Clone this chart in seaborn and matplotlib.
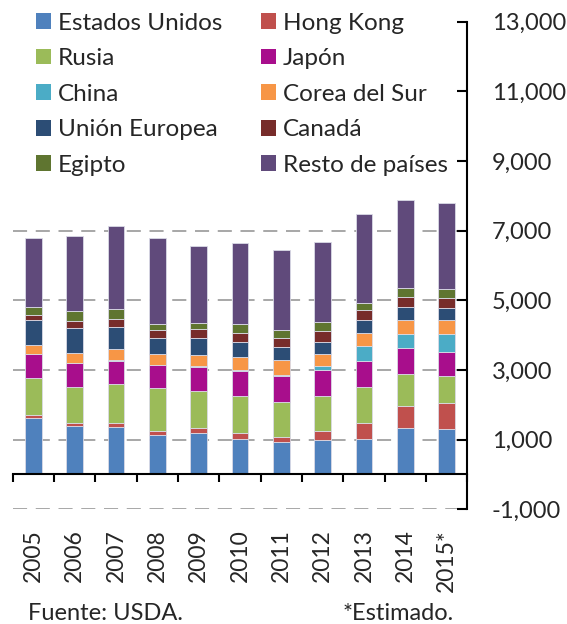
import numpy as np
import pandas as pd
import matplotlib
matplotlib.use('Agg')
import matplotlib.pyplot as plt
from matplotlib.patches import Patch
from matplotlib.ticker import FuncFormatter, FixedLocator
import seaborn as sns

# Years (2015 is an estimate)
years = ['2005', '2006', '2007', '2008', '2009', '2010', '2011', '2012', '2013', '2014', '2015*']

# Values, stacked bottom to top
estados_unidos = [1620, 1390, 1360, 1145, 1180, 1030, 935, 1000, 1010, 1335, 1305]
hong_kong = [85, 85, 105, 105, 155, 160, 145, 240, 470, 630, 745]
rusia = [1060, 1030, 1120, 1240, 1050, 1050, 995, 1025, 1020, 925, 765]
japon = [690, 700, 670, 650, 700, 725, 745, 735, 755, 735, 700]
china = [0, 0, 30, 0, 30, 45, 30, 105, 430, 410, 505]
corea_del_sur = [250, 285, 305, 305, 305, 365, 430, 365, 365, 400, 400]
union_europea = [725, 715, 650, 475, 505, 430, 365, 345, 390, 365, 365]
canada = [145, 190, 230, 230, 240, 250, 285, 315, 285, 285, 275]
egipto = [220, 295, 285, 155, 180, 250, 210, 260, 190, 265, 270]
resto = [1985, 2160, 2390, 2475, 2205, 2330, 2300, 2285, 2550, 2515, 2455]

series_names = ['Estados Unidos', 'Hong Kong', 'Rusia', 'Japón', 'China',
                'Corea del Sur', 'Unión Europea', 'Canadá', 'Egipto', 'Resto de países']
series_values = [estados_unidos, hong_kong, rusia, japon, china,
                 corea_del_sur, union_europea, canada, egipto, resto]
series_colors = ['#4F81BD', '#C0504D', '#9BBB59', '#A80E8C', '#4BACC6',
                 '#F79646', '#2C4D75', '#772C2A', '#5F7530', '#604A7B']

sns.set_theme(style='white')
plt.rcParams['font.family'] = ['Lato', 'DejaVu Sans']

fig = plt.figure(figsize=(5.67, 6.24), dpi=100)
ax = fig.add_axes([0.0224, 0.1838, 0.8018, 0.7817])

# dashed gridlines (upper ones are hidden behind the legend in the original)
for g in [-1000, 1000, 3000, 5000, 7000]:
    ax.axhline(g, color='#A0A0A0', lw=1.3, linestyle=(0, (7.8, 4.8)), zorder=0)

# stacked bars
bottom = np.zeros(len(years))
for name, vals, col in zip(series_names, series_values, series_colors):
    df = pd.DataFrame({'year': years, 'value': vals})
    sns.barplot(data=df, x='year', y='value', order=years, color=col, saturation=1,
                width=0.4, errorbar=None, bottom=bottom, ax=ax,
                edgecolor='#DADAE6', linewidth=0.6, zorder=2)
    bottom = bottom + np.array(vals)

ax.set_xlim(-0.5, len(years) - 0.5)
ax.set_ylim(-1000, 13000)
ax.set_xlabel('')
ax.set_ylabel('')

# axes styling
ax.spines['left'].set_visible(False)
ax.spines['top'].set_visible(False)
ax.spines['right'].set_color('black')
ax.spines['right'].set_linewidth(1.5)
ax.spines['bottom'].set_color('black')
ax.spines['bottom'].set_linewidth(1.5)
ax.spines['bottom'].set_position(('data', 0))

ax.yaxis.tick_right()
ax.set_yticks(range(-1000, 13001, 2000))
ax.yaxis.set_major_formatter(FuncFormatter(lambda v, p: f'{int(v):,}'))
ax.tick_params(axis='y', direction='in', length=7.2, width=1.5, color='black',
               labelsize=17, pad=17.5, left=False, right=True)

ax.set_xticks(range(len(years)))
ax.set_xticklabels(years, rotation=90)
ax.tick_params(axis='x', which='major', length=0, labelsize=16.5, pad=39.5)
ax.xaxis.set_minor_locator(FixedLocator(np.arange(-0.5, len(years), 1.0)))
ax.tick_params(axis='x', which='minor', direction='out', length=5.8, width=1.5,
               color='black', bottom=True)

# legend filled row by row like the original
handles = [Patch(facecolor=c, edgecolor='none') for c in series_colors]
order = list(range(0, 10, 2)) + list(range(1, 10, 2))
fig.legend([handles[i] for i in order], [series_names[i] for i in order],
           loc='upper left', bbox_to_anchor=(36 / 567, 1 - 12.5 / 624), ncol=2,
           frameon=False, fontsize=17.5, borderpad=0, borderaxespad=0,
           handlelength=0.62, handleheight=0.62, handletextpad=0.28,
           labelspacing=0.6, columnspacing=1.6)

fig.text(28 / 567, 1 - 620 / 624, 'Fuente: USDA.', fontsize=17, va='baseline', ha='left')
fig.text(454 / 567, 1 - 620 / 624, '*Estimado.', fontsize=17, va='baseline', ha='right')

fig.savefig('out.png', dpi=100)
